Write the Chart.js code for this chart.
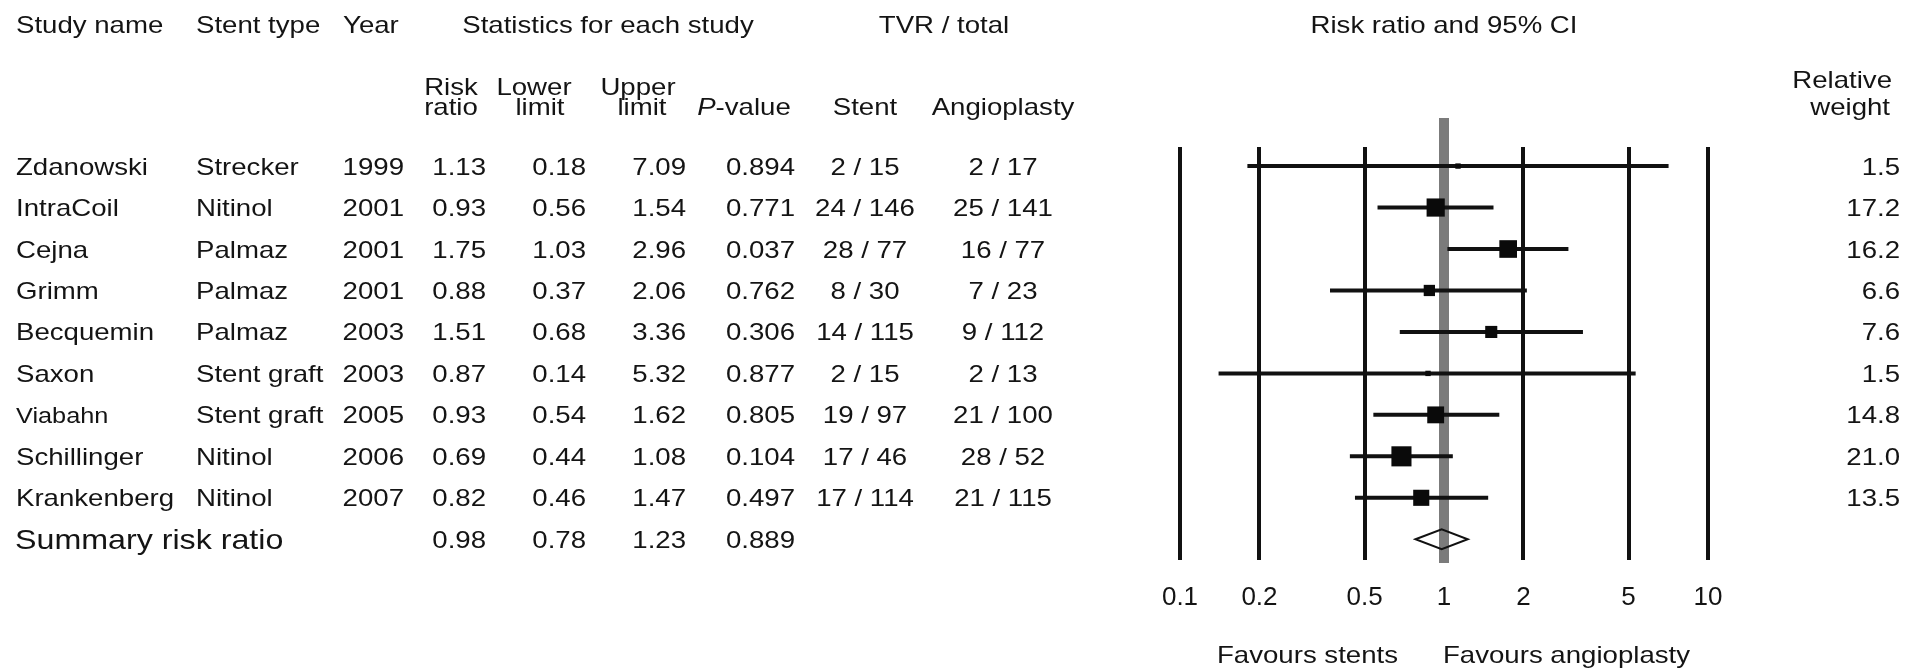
<!DOCTYPE html>
<html>
<head>
<meta charset="utf-8">
<title>Stent vs angioplasty – risk ratio of TVR</title>
<style>
  html, body { margin: 0; padding: 0; background: #fff; }
  canvas { display: block; }
</style>
</head>
<body>
<canvas id="forestChart" width="1920" height="670"></canvas>

<script src="https://cdn.jsdelivr.net/npm/chart.js"></script>
<script>
  // Study data
  const studies = ['Zdanowski', 'IntraCoil', 'Cejna', 'Grimm', 'Becquemin', 'Saxon', 'Viabahn', 'Schillinger', 'Krankenberg'];
  const stentTypes = ['Strecker', 'Nitinol', 'Palmaz', 'Palmaz', 'Palmaz', 'Stent graft', 'Stent graft', 'Nitinol', 'Nitinol'];
  const years = [1999, 2001, 2001, 2001, 2003, 2003, 2005, 2006, 2007];
  const riskRatio = [1.13, 0.93, 1.75, 0.88, 1.51, 0.87, 0.93, 0.69, 0.82];
  const lowerLimit = [0.18, 0.56, 1.03, 0.37, 0.68, 0.14, 0.54, 0.44, 0.46];
  const upperLimit = [7.09, 1.54, 2.96, 2.06, 3.36, 5.32, 1.62, 1.08, 1.47];
  const pValues = ['0.894', '0.771', '0.037', '0.762', '0.306', '0.877', '0.805', '0.104', '0.497'];
  const stentTVR = ['2 / 15', '24 / 146', '28 / 77', '8 / 30', '14 / 115', '2 / 15', '19 / 97', '17 / 46', '17 / 114'];
  const angioTVR = ['2 / 17', '25 / 141', '16 / 77', '7 / 23', '9 / 112', '2 / 13', '21 / 100', '28 / 52', '21 / 115'];
  const relWeight = [1.5, 17.2, 16.2, 6.6, 7.6, 1.5, 14.8, 21.0, 13.5];

  // Summary (pooled) estimate
  const summaryRR = 0.98;
  const summaryLower = 0.78;
  const summaryUpper = 1.23;
  const summaryP = '0.889';

  const tickValues = [0.1, 0.2, 0.5, 1, 2, 5, 10];

  const FONT = '"Liberation Sans", Arial, sans-serif';
  const TEXT = '#141414';
  const SX = 1.15; // the source figure is a bit stretched sideways

  function txt(ctx, s, x, y, align, size, italic) {
    ctx.save();
    ctx.font = (italic ? 'italic ' : '') + size + 'px ' + FONT;
    ctx.fillStyle = TEXT;
    ctx.textAlign = align;
    ctx.textBaseline = 'alphabetic';
    ctx.translate(x, y);
    ctx.scale(SX, 1);
    ctx.fillText(s, 0, 0);
    ctx.restore();
  }

  function textWidth(ctx, s, size, italic) {
    ctx.save();
    ctx.font = (italic ? 'italic ' : '') + size + 'px ' + FONT;
    const w = ctx.measureText(s).width * SX;
    ctx.restore();
    return w;
  }

  // gray line of no effect at RR = 1, under the markers
  const noEffectLine = {
    id: 'noEffectLine',
    beforeDatasetsDraw(chart) {
      const ctx = chart.ctx;
      const x1 = chart.scales.x.getPixelForValue(1);
      ctx.save();
      ctx.fillStyle = '#7b7b7b';
      ctx.fillRect(x1 - 5, 118, 10, chart.chartArea.bottom + 3 - 118);
      ctx.restore();
    }
  };

  // hollow diamond for the pooled estimate
  const summaryDiamond = {
    id: 'summaryDiamond',
    afterDatasetsDraw(chart) {
      const ctx = chart.ctx;
      const xs = chart.scales.x;
      const ys = chart.scales.y.getPixelForValue(studies.length);
      const xl = xs.getPixelForValue(summaryLower);
      const xe = xs.getPixelForValue(summaryRR);
      const xu = xs.getPixelForValue(summaryUpper);
      ctx.save();
      ctx.strokeStyle = '#111';
      ctx.lineWidth = 2;
      ctx.beginPath();
      ctx.moveTo(xl, ys);
      ctx.lineTo(xe, ys - 10);
      ctx.lineTo(xu, ys);
      ctx.lineTo(xe, ys + 10);
      ctx.closePath();
      ctx.stroke();
      ctx.restore();
    }
  };

  // the table to the left and the weights to the right
  const tableText = {
    id: 'tableText',
    afterDraw(chart) {
      const ctx = chart.ctx;
      const yScale = chart.scales.y;
      const x1 = chart.scales.x.getPixelForValue(1);
      const fs = 24;

      // headers
      txt(ctx, 'Study name', 16, 33, 'left', fs);
      txt(ctx, 'Stent type', 196, 33, 'left', fs);
      txt(ctx, 'Year', 343, 33, 'left', fs);
      txt(ctx, 'Statistics for each study', 608, 33, 'center', fs);
      txt(ctx, 'TVR / total', 944, 33, 'center', fs);
      txt(ctx, 'Risk ratio and 95% CI', x1, 33, 'center', fs);

      txt(ctx, 'Risk', 451, 95, 'center', fs);
      txt(ctx, 'Lower', 534, 95, 'center', fs);
      txt(ctx, 'Upper', 638, 95, 'center', fs);
      txt(ctx, 'ratio', 451, 115, 'center', fs);
      txt(ctx, 'limit', 540, 115, 'center', fs);
      txt(ctx, 'limit', 642, 115, 'center', fs);
      const wP = textWidth(ctx, 'P', fs, true);
      const wRest = textWidth(ctx, '-value', fs, false);
      const pStart = 744 - (wP + wRest) / 2;
      txt(ctx, 'P', pStart, 115, 'left', fs, true);
      txt(ctx, '-value', pStart + wP, 115, 'left', fs);
      txt(ctx, 'Stent', 865, 115, 'center', fs);
      txt(ctx, 'Angioplasty', 1003, 115, 'center', fs);

      txt(ctx, 'Relative', 1892, 88, 'right', fs);
      txt(ctx, 'weight', 1890, 115, 'right', fs);

      // study rows
      studies.forEach((name, i) => {
        const y = yScale.getPixelForValue(i) + 8.5;
        txt(ctx, name, 16, y, 'left', name === 'Viabahn' ? 22 : fs);
        txt(ctx, stentTypes[i], 196, y, 'left', fs);
        txt(ctx, String(years[i]), 404, y, 'right', fs);
        txt(ctx, riskRatio[i].toFixed(2), 486, y, 'right', fs);
        txt(ctx, lowerLimit[i].toFixed(2), 586, y, 'right', fs);
        txt(ctx, upperLimit[i].toFixed(2), 686, y, 'right', fs);
        txt(ctx, pValues[i], 795, y, 'right', fs);
        txt(ctx, stentTVR[i], 865, y, 'center', fs);
        txt(ctx, angioTVR[i], 1003, y, 'center', fs);
        txt(ctx, relWeight[i].toFixed(1), 1900, y, 'right', fs);
      });

      // summary row
      const ySum = yScale.getPixelForValue(studies.length) + 8.5;
      txt(ctx, 'Summary risk ratio', 15, ySum + 1, 'left', 28);
      txt(ctx, summaryRR.toFixed(2), 486, ySum, 'right', fs);
      txt(ctx, summaryLower.toFixed(2), 586, ySum, 'right', fs);
      txt(ctx, summaryUpper.toFixed(2), 686, ySum, 'right', fs);
      txt(ctx, summaryP, 795, ySum, 'right', fs);

      // direction labels under the axis
      txt(ctx, 'Favours stents', x1 - 46, 663, 'right', fs);
      txt(ctx, 'Favours angioplasty', x1 - 1, 663, 'left', fs);
    }
  };

  const ciDatasets = studies.map((name, i) => ({
    type: 'line',
    label: name + ' 95% CI',
    data: [{ x: lowerLimit[i], y: i }, { x: upperLimit[i], y: i }],
    borderColor: '#111',
    borderWidth: 4,
    pointRadius: 0,
    order: 2
  }));

  const pointDataset = {
    type: 'scatter',
    label: 'Risk ratio',
    data: riskRatio.map((v, i) => ({ x: v, y: i })),
    pointStyle: 'rect',
    pointRadius: ctx => 3.1 * Math.sqrt(relWeight[ctx.dataIndex]),
    backgroundColor: '#0a0a0a',
    borderColor: '#0a0a0a',
    borderWidth: 0,
    order: 1
  };

  new Chart(document.getElementById('forestChart'), {
    type: 'scatter',
    data: { datasets: [pointDataset, ...ciDatasets] },
    options: {
      responsive: false,
      devicePixelRatio: 1,
      animation: false,
      layout: { padding: { left: 1180, right: 212, top: 147, bottom: 57 } },
      plugins: {
        legend: { display: false },
        tooltip: { enabled: false }
      },
      scales: {
        x: {
          type: 'logarithmic',
          min: 0.1,
          max: 10,
          afterBuildTicks: scale => {
            scale.ticks = tickValues.map(v => ({ value: v }));
          },
          afterFit: scale => {
            scale.height = 53;
          },
          border: { display: false },
          grid: {
            color: c => (c.tick && c.tick.value === 1) ? 'rgba(0,0,0,0)' : '#111',
            lineWidth: 4,
            drawTicks: false
          },
          ticks: {
            padding: 22,
            color: TEXT,
            font: { family: FONT, size: 26 },
            maxRotation: 0,
            autoSkip: false,
            callback: v => String(v)
          }
        },
        y: {
          type: 'linear',
          display: false,
          reverse: true,
          min: -0.46,
          max: 9.5
        }
      }
    },
    plugins: [noEffectLine, summaryDiamond, tableText]
  });
</script>
</body>
</html>
